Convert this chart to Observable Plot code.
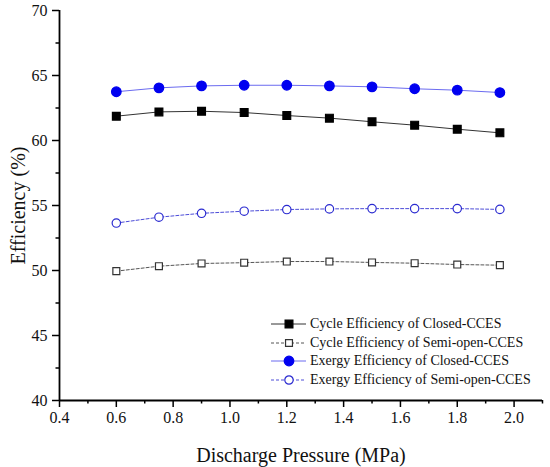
<!DOCTYPE html>
<html>
<head>
<meta charset="utf-8">
<script src="https://cdn.jsdelivr.net/npm/d3@7"></script>
<script src="https://cdn.jsdelivr.net/npm/@observablehq/plot@0.6"></script>
<style>
  html, body { margin: 0; padding: 0; background: #fff; }
  #wrap { position: relative; width: 550px; height: 467px; font-family: "Liberation Serif", "Times New Roman", serif; }
  #wrap svg text { font-family: "Liberation Serif", "Times New Roman", serif !important; fill: #111; }
  #legend { position: absolute; left: 270px; top: 315px; font-size: 14px; color: #111; }
  #legend .row { display: flex; align-items: center; height: 18.6px; white-space: nowrap; }
  #legend svg { margin-right: 3px; }
</style>
</head>
<body>
<div id="wrap"></div>
<script>
const pressure = [0.6, 0.75, 0.9, 1.05, 1.2, 1.35, 1.5, 1.65, 1.8, 1.95];
const cycleClosed = [61.87, 62.2, 62.25, 62.15, 61.92, 61.72, 61.44, 61.18, 60.87, 60.59];
const cycleSemi = [49.95, 50.33, 50.54, 50.6, 50.69, 50.69, 50.62, 50.56, 50.46, 50.41];
const exergyClosed = [63.75, 64.05, 64.2, 64.25, 64.25, 64.2, 64.13, 63.98, 63.87, 63.69];
const exergySemi = [53.65, 54.1, 54.4, 54.56, 54.69, 54.74, 54.76, 54.76, 54.76, 54.7];
const seriesNames = [
  "Cycle Efficiency of Closed-CCES",
  "Cycle Efficiency of Semi-open-CCES",
  "Exergy Efficiency of Closed-CCES",
  "Exergy Efficiency of Semi-open-CCES"
];
const xMajorTicks = [0.4, 0.6, 0.8, 1.0, 1.2, 1.4, 1.6, 1.8, 2.0];
const xMinorTicks = [0.5, 0.7, 0.9, 1.1, 1.3, 1.5, 1.7, 1.9, 2.1];
const yMajorTicks = [40, 45, 50, 55, 60, 65, 70];
const yMinorTicks = [42.5, 47.5, 52.5, 57.5, 62.5, 67.5];

const styles = [
  {line: "#333", dash: null, symbol: "square", fill: "#000", stroke: "#000", r: 4.4},
  {line: "#555", dash: "3,2", symbol: "square", fill: "#fff", stroke: "#333", r: 3.9},
  {line: "#6b6bf0", dash: null, symbol: "circle", fill: "#0000f0", stroke: "#0000f0", r: 4.8},
  {line: "#4c4cd8", dash: "3,2", symbol: "circle", fill: "#fff", stroke: "#2a2ad0", r: 4.2}
];
const allSeries = [cycleClosed, cycleSemi, exergyClosed, exergySemi];
const tables = allSeries.map(vals => pressure.map((p, i) => ({x: p, y: vals[i]})));

const marks = [];
tables.forEach((t, k) => {
  const s = styles[k];
  marks.push(Plot.line(t, {x: "x", y: "y", stroke: s.line, strokeWidth: 1, strokeDasharray: s.dash}));
});
tables.forEach((t, k) => {
  const s = styles[k];
  marks.push(Plot.dot(t, {x: "x", y: "y", symbol: s.symbol, r: s.r, fill: s.fill, stroke: s.stroke, strokeWidth: 1.2}));
});

const chart = Plot.plot({
  width: 550,
  height: 467,
  marginLeft: 59,
  marginTop: 10,
  marginRight: 8,
  marginBottom: 67,
  style: {fontFamily: "'Liberation Serif', 'Times New Roman', serif", background: "#fff", color: "#000"},
  x: {domain: [0.4, 2.1]},
  y: {domain: [40, 70]},
  marks: [
    Plot.axisX({ticks: xMajorTicks, tickSize: 7, tickPadding: 4, tickFormat: d3.format(".1f"), fontSize: 16, label: null, strokeWidth: 1.5}),
    Plot.axisX({ticks: xMinorTicks, tickSize: 3.5, tickFormat: () => "", label: null, strokeWidth: 1.5}),
    Plot.axisY({ticks: yMajorTicks, tickSize: 7, tickPadding: 5, fontSize: 16, label: null, strokeWidth: 1.5}),
    Plot.axisY({ticks: yMinorTicks, tickSize: 3.5, tickFormat: () => "", label: null, strokeWidth: 1.5}),
    Plot.ruleY([40], {stroke: "#000", strokeWidth: 1.8}),
    Plot.ruleX([0.4], {stroke: "#000", strokeWidth: 1.8}),
    ...marks,
    Plot.text(["Discharge Pressure (MPa)"], {frameAnchor: "bottom", dy: 55, fontSize: 20, textAnchor: "middle", lineAnchor: "middle", fill: "#111"}),
    Plot.text(["Efficiency (%)"], {frameAnchor: "left", dx: -41, rotate: -90, fontSize: 20, textAnchor: "middle", lineAnchor: "middle", fill: "#111"})
  ]
});

const wrap = document.getElementById("wrap");
wrap.appendChild(chart);

const legend = document.createElement("div");
legend.id = "legend";
seriesNames.forEach((name, k) => {
  const s = styles[k];
  const row = document.createElement("div");
  row.className = "row";
  const svg = d3.create("svg").attr("width", 37).attr("height", 12);
  svg.append("line").attr("x1", 1).attr("x2", 36).attr("y1", 6).attr("y2", 6)
    .attr("stroke", s.line).attr("stroke-width", 1).attr("stroke-dasharray", s.dash);
  const sym = s.symbol === "square" ? d3.symbolSquare : d3.symbolCircle;
  svg.append("path").attr("d", d3.symbol(sym, Math.PI * s.r * s.r)())
    .attr("transform", "translate(19,6)").attr("fill", s.fill).attr("stroke", s.stroke).attr("stroke-width", 1.2);
  row.appendChild(svg.node());
  const span = document.createElement("span");
  span.textContent = name;
  row.appendChild(span);
  legend.appendChild(row);
});
wrap.appendChild(legend);
</script>
</body>
</html>
